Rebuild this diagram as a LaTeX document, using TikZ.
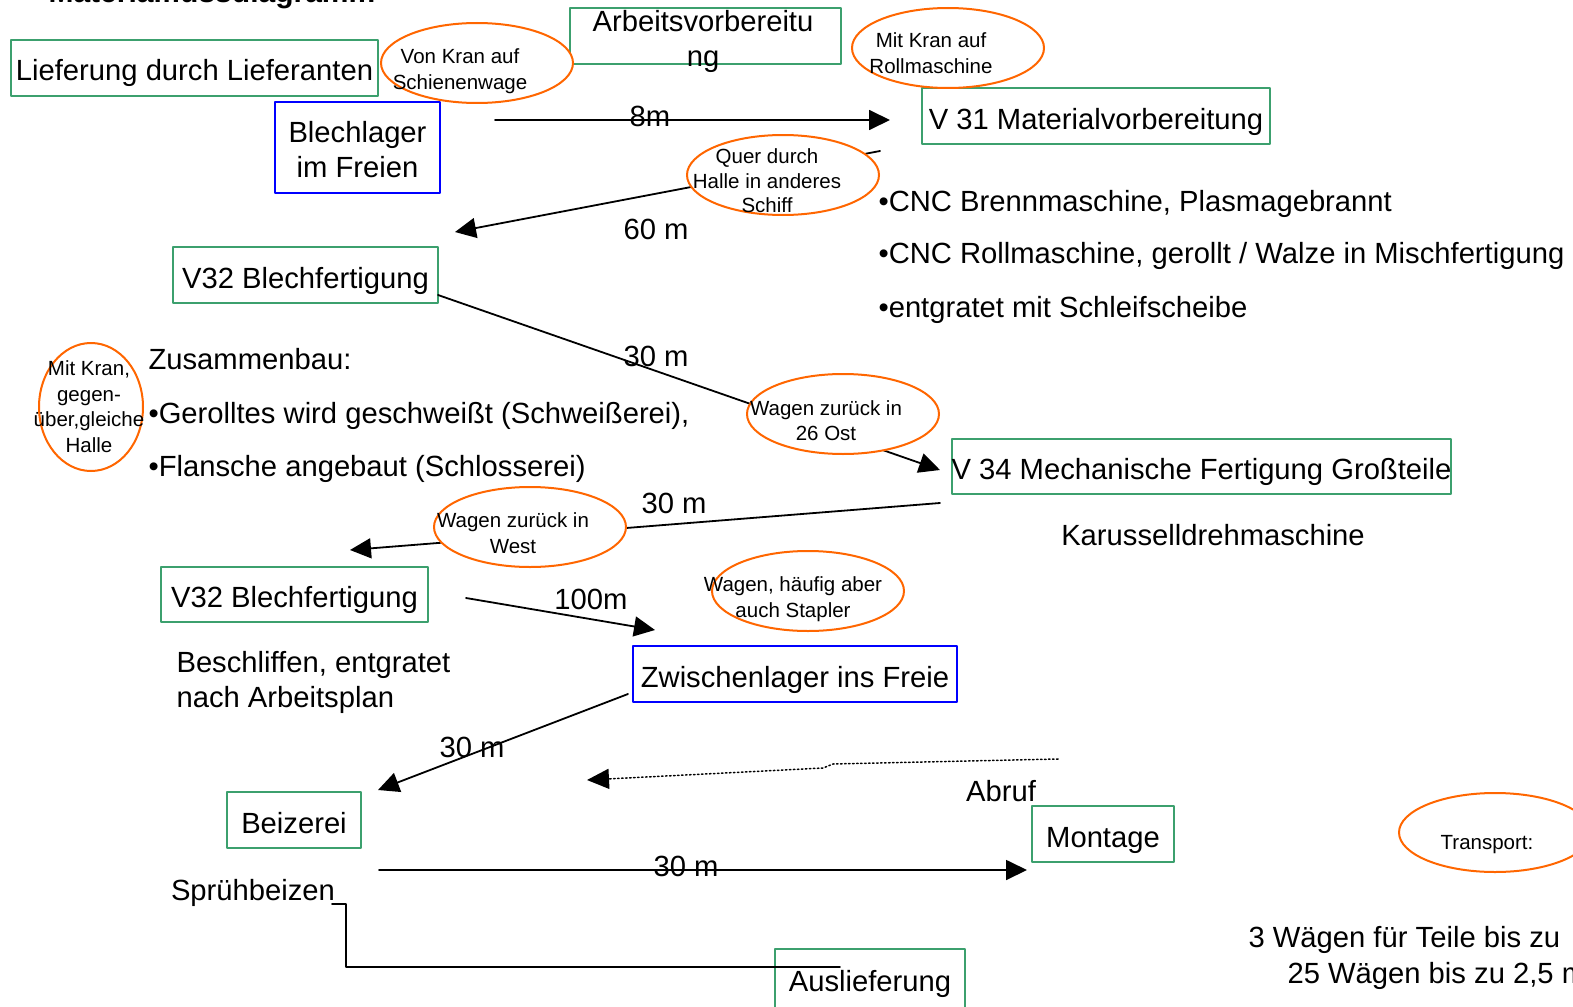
\documentclass[tikz,border=0pt]{standalone}
\usepackage{fontspec}
\setmainfont{Liberation Sans}
\usetikzlibrary{arrows.meta,shapes.geometric}

\definecolor{boxgreen}{RGB}{60,160,110}
\definecolor{ovalorange}{RGB}{255,102,0}

\tikzset{
  gbox/.style={draw=boxgreen, line width=2pt, inner sep=0pt},
  bbox/.style={draw=blue, line width=2pt, inner sep=0pt},
  oval/.style={ellipse, draw=ovalorange, line width=2pt, fill=white, inner sep=0pt},
  big/.style={font=\fontsize{29.2}{35}\selectfont, text height=27pt, text depth=1pt},
  bigml/.style={font=\fontsize{29.2}{35}\selectfont, align=center},
  small/.style={font=\fontsize{20.5}{25.5}\selectfont, align=center},
  flow/.style={line width=1.8pt, -{Triangle[length=21pt,width=20pt]}},
}

\begin{document}
\begin{tikzpicture}[x=1pt, y=-1pt, line cap=round, line join=round]
      \path[use as bounding box] (0,0) rectangle (1573,1006);

      \node[font=\bfseries\fontsize{30}{36}\selectfont, anchor=base west] (title) at (45,3) {Materialflussdiagramm};

      % boxes
      \node[gbox, big, minimum width=367pt, minimum height=56pt] (liefer) at (194.5,68) {Lieferung durch Lieferanten};
      \node[bbox, bigml, minimum width=165pt, minimum height=91pt] (blechlager) at (357.5,147.5) {};
      \node[bigml] (blechtext) at (357.5,150) {Blechlager\\im Freien};
      \node[gbox, minimum width=271pt, minimum height=56pt] (arbv) at (705.5,36) {};
      \node[bigml] (arbvtext) at (703,41.5) {Arbeitsvorbereitu\\ng};
      \node[gbox, big, minimum width=348pt, minimum height=56pt] (v31) at (1096,116) {V 31 Materialvorbereitung};
      \node[gbox, big, minimum width=265pt, minimum height=56pt] (v32a) at (305.5,275) {V32 Blechfertigung};
      \node[gbox, big, minimum width=499pt, minimum height=55pt] (v34) at (1201.5,466.5) {V 34 Mechanische Fertigung Großteile};
      \node[gbox, big, minimum width=267pt, minimum height=55pt] (v32b) at (294.5,594.5) {V32 Blechfertigung};
      \node[bbox, big, minimum width=324pt, minimum height=56pt] (zwlager) at (795,674) {Zwischenlager ins Freie};
      \node[gbox, big, minimum width=134pt, minimum height=56pt] (beizerei) at (294,820) {Beizerei};
      \node[gbox, big, minimum width=142pt, minimum height=56pt] (montage) at (1103,834) {Montage};
      \node[gbox, minimum width=190pt, minimum height=60pt] (ausl) at (870,979) {};
      \node[big] (ausltext) at (870,978) {Auslieferung};

      % connectors
      \coordinate (s8) at (495,120);
      \coordinate (e8) at (890,120);
      \draw[flow] (s8) -- (e8);

      \coordinate (s60) at (880,151);
      \coordinate (e60) at (455,232);
      \draw[flow] (s60) -- (e60);

      \coordinate (sost) at (438,295);
      \coordinate (eost) at (940,470);
      \draw[flow] (sost) -- (eost);

      \coordinate (swest) at (940,503);
      \coordinate (ewest) at (350,550);
      \draw[flow] (swest) -- (ewest);

      \coordinate (s100) at (466,598);
      \coordinate (e100) at (655,630);
      \draw[flow] (s100) -- (e100);

      \coordinate (szw) at (628,694);
      \coordinate (ezw) at (378,790);
      \draw[flow] (szw) -- (ezw);

      \coordinate (sabruf) at (1058,759);
      \coordinate (eabruf) at (587,780);
      \draw[line width=1.5pt, dash pattern=on 1.5pt off 2.5pt, -{Triangle[length=22pt,width=20pt]}] (sabruf) -- (833,764) -- (823,768) -- (eabruf);

      \coordinate (smont) at (379,870);
      \coordinate (emont) at (1027,870);
      \draw[flow] (smont) -- (emont);

      \coordinate (sausl) at (332,904);
      \coordinate (eausl) at (840,967);
      \draw[line width=1.8pt] (sausl) -- (346,904) |- (eausl);

      % ellipses
      \node[oval, minimum width=192pt, minimum height=80pt] (vonkran) at (477,63) {};
      \node[small] (vonkrantext) at (460,71) {Von Kran auf\\Schienenwage};

      \node[oval, minimum width=192pt, minimum height=80pt] (mitkran) at (948,48) {};
      \node[small] (mitkrantext) at (931,53) {Mit Kran auf\\Rollmaschine};

      \node[oval, minimum width=192pt, minimum height=80pt] (quer) at (783,175) {};
      \node[small, font=\fontsize{20.5}{24.5}\selectfont] (quertext) at (767,181) {Quer durch\\Halle in anderes\\Schiff};

      \node[oval, minimum width=192pt, minimum height=80pt] (ost) at (843,414) {};
      \node[small] (osttext) at (826,420.5) {Wagen zurück in\\26 Ost};

      \node[oval, minimum width=104pt, minimum height=128pt] (gegen) at (91,407) {};
      \node[small] (gegentext) at (89,406.5) {Mit Kran,\\gegen-\\über,gleiche\\Halle};

      \node[oval, minimum width=192pt, minimum height=80pt] (west) at (530,527) {};
      \node[small] (westtext) at (513,533) {Wagen zurück in\\West};

      \node[oval, minimum width=192pt, minimum height=80pt] (stapler) at (808,591) {};
      \node[small] (staplertext) at (793,599) {Wagen, häufig aber\\auch Stapler};

      \node[oval, minimum width=192pt, minimum height=79pt] (transport) at (1495,832.5) {};
      \node[small] (transporttext) at (1487,845) {Transport:};

      % labels
      \node[big] (l8) at (650,114) {8m};
      \node[big] (l60) at (656,226) {60 m};
      \node[big] (lost) at (656,353) {30 m};
      \node[big] (lwest) at (674,500) {30 m};
      \node[big] (l100) at (591,596) {100m};
      \node[big] (lzw) at (472,744) {30 m};
      \node[big] (lmont) at (686,863) {30 m};
      \node[big] (labruf) at (1001,788) {Abruf};

      % texts
      \node[big, anchor=west] (cnc1) at (875,198) {•CNC Brennmaschine, Plasmagebrannt};
      \node[big, anchor=west] (cnc2) at (875,250) {•CNC Rollmaschine, gerollt / Walze in Mischfertigung};
      \node[big, anchor=west] (cnc3) at (875,304) {•entgratet mit Schleifscheibe};

      \node[big, anchor=west] (zus) at (145,356) {Zusammenbau:};
      \node[big, anchor=west] (zus1) at (145,410) {•Gerolltes wird geschweißt (Schweißerei),};
      \node[big, anchor=west] (zus2) at (145,463) {•Flansche angebaut (Schlosserei)};

      \node[big] (karussell) at (1213,532) {Karusselldrehmaschine};
      \node[bigml, align=left, anchor=west] (beschl) at (173,682) {Beschliffen, entgratet\\nach Arbeitsplan};
      \node[big] (spruehb) at (253,887) {Sprühbeizen};

      \node[big, anchor=west] (waegen1) at (1245,934) {3 Wägen für Teile bis zu};
      \node[big, anchor=west] (waegen2) at (1284,970) {25 Wägen bis zu 2,5 m};

\end{tikzpicture}
\end{document}
